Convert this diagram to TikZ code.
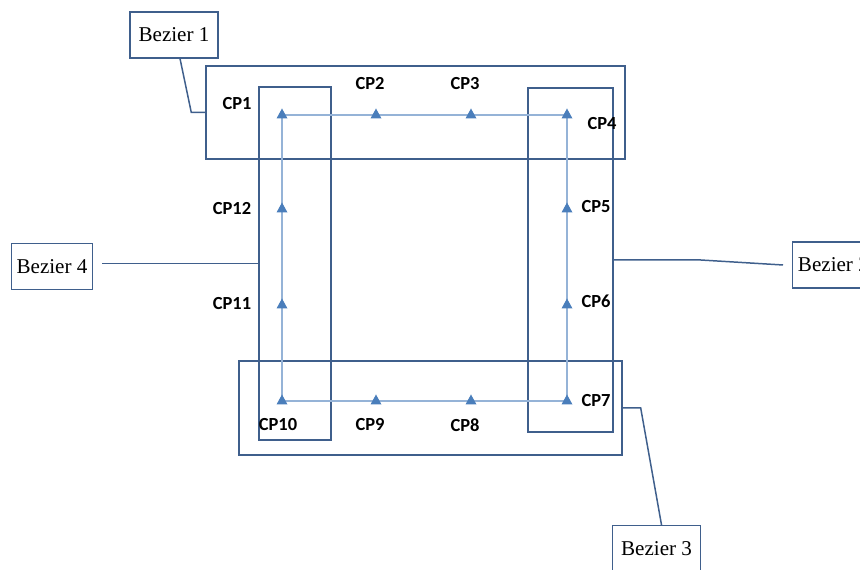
\documentclass[tikz,border=0pt]{standalone}
\usepackage{fontspec}
\setmainfont{Liberation Serif}
\newfontfamily\cpfont{Carlito}
\usetikzlibrary{
  calc,
  fit,
  positioning
}
\definecolor{frameBlue}{HTML}{3F5F8C}
\definecolor{pathBlue}{HTML}{95B3D7}
\definecolor{markBlue}{HTML}{4A7EBB}
\tikzset{
  bezBox/.style={
    draw=frameBlue,
    line width=0.8pt,
    font=\fontsize{12}{14}\selectfont,
    minimum height=26pt,
    inner xsep=3pt
  },
  groupBox/.style={draw=frameBlue, line width=0.8pt, inner sep=0pt},
  leaderLine/.style={frameBlue, line width=0.85pt},
  ctrlPath/.style={pathBlue, line width=1.2pt},
  cpLabel/.style={font=\cpfont\bfseries\fontsize{10.5}{12}\selectfont, inner sep=1pt},
  cpMark/.style={fill=markBlue}
}

\begin{document}
\begin{tikzpicture}[x=0.02cm,y=-0.02cm]
  \useasboundingbox (0,0) rectangle (860,570);

  % control points
  \coordinate (cp1) at (282,115);
  \coordinate (cp2) at (376,115);
  \coordinate (cp3) at (471,115);
  \coordinate (cp4) at (567,115);
  \coordinate (cp5) at (567,209);
  \coordinate (cp6) at (567,305);
  \coordinate (cp7) at (567,401);
  \coordinate (cp8) at (471,401);
  \coordinate (cp9) at (376,401);
  \coordinate (cp10) at (282,401);
  \coordinate (cp11) at (282,305);
  \coordinate (cp12) at (282,209);

  % segment frames
  \node[groupBox, fit={(206,66) (625,159)}] (grpTop) {};
  \node[groupBox, fit={(259,87) (331,440)}] (grpLeft) {};
  \node[groupBox, fit={(528,88) (613,432)}] (grpRight) {};
  \node[groupBox, fit={(239,361) (622,455)}] (grpBottom) {};

  \draw[ctrlPath] (cp1) -- (cp4) -- (cp7) -- (cp10) -- cycle;
  \foreach \p in {cp1,cp2,cp3,cp4,cp5,cp6,cp7,cp8,cp9,cp10,cp11,cp12} {
    \fill[cpMark] (\p) ++(-5.5,3.5) -- ++(11,0) -- ++(-5.5,-10) -- cycle;
  }

  \node[cpLabel] (lbl1) at (237,104) {CP1};
  \node[cpLabel] (lbl2) at (370,84) {CP2};
  \node[cpLabel] (lbl3) at (465,84) {CP3};
  \node[cpLabel] (lbl4) at (602,124) {CP4};
  \node[cpLabel] (lbl5) at (596,207) {CP5};
  \node[cpLabel] (lbl6) at (596,301) {CP6};
  \node[cpLabel] (lbl7) at (596,401) {CP7};
  \node[cpLabel] (lbl8) at (465,425) {CP8};
  \node[cpLabel] (lbl9) at (370,425) {CP9};
  \node[cpLabel] (lbl10) at (278,425) {CP10};
  \node[cpLabel] (lbl11) at (232,304) {CP11};
  \node[cpLabel] (lbl12) at (232,209) {CP12};

  % curve names
  \node[bezBox, minimum width=88*0.567pt] (bez1) at (174,35) {Bezier 1};
  \node[bezBox] (bez4) at (52,266.5) {Bezier 4};
  \node[bezBox, anchor=west] (bez2) at (792,265) {Bezier 2};
  \node[bezBox, anchor=north west, minimum width=88*0.567pt] (bez3) at (612,525) {Bezier 3};

  \draw[leaderLine] ($(bez1.south)+(6,0)$) -- ($(grpTop.west)+(-14,0)$) -- (grpTop.west);
  \draw[leaderLine, shorten <=9*0.567pt] (grpLeft.west -| bez4.east) -- (grpLeft.west);
  \draw[leaderLine] (grpRight.east) -- ++(87,0) -- ($(bez2.west)+(-9,0)$);
  \draw[leaderLine] (grpBottom.east) -- ++(18,0) -- ($(bez3.north)+(5,0)$);
\end{tikzpicture}
\end{document}
